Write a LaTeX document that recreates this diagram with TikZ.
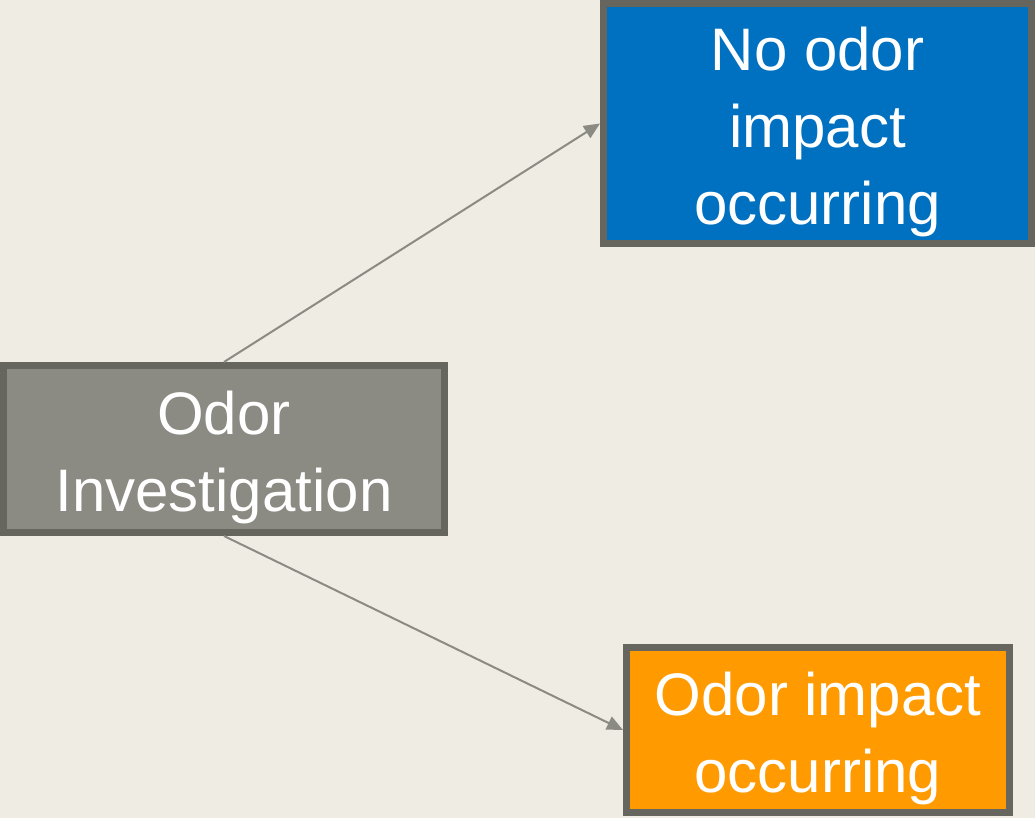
\documentclass[tikz,border=0pt]{standalone}
\usepackage{fontspec}
\setmainfont{Liberation Sans}
\usepackage{xcolor}
\usepackage{tikz}
\usetikzlibrary{arrows.meta}

\definecolor{paper}{HTML}{EFECE4}
\definecolor{stone}{HTML}{8B8B84}
\definecolor{slate}{HTML}{66665E}
\definecolor{okblue}{HTML}{0070C0}
\definecolor{alertorange}{HTML}{FF9B00}

% extra room above the first line of a box
\newcommand{\liftstrut}{\rule{0pt}{60pt}}

\begin{document}
\begin{tikzpicture}[x=1pt,y=1pt,
    box/.style={draw=slate,line width=7pt,text=white,align=center,
      font=\fontsize{60}{77}\selectfont,inner sep=0pt},
    link/.style={draw=stone,line width=2pt,-{Triangle[length=16pt,width=14pt]}}]
  % page
  \fill[paper] (0,0) rectangle (1035,-818);
  \useasboundingbox (0,0) rectangle (1035,-818);

  % boxes
  \node[box,fill=stone,minimum width=440.5,minimum height=167] (invest)
    at (224,-449) {\liftstrut Odor\\Investigation};
  \node[box,fill=okblue,minimum width=428,minimum height=240] (noimpact)
    at (817.5,-123.5) {\liftstrut No odor\\impact\\occurring};
  \node[box,fill=alertorange,minimum width=383,minimum height=165] (impact)
    at (818,-730) {\liftstrut Odor impact\\occurring};

  % outcomes
  \draw[link] (invest.north) -- (noimpact.west);
  \draw[link] (invest.south) -- (impact.west);
\end{tikzpicture}
\end{document}
